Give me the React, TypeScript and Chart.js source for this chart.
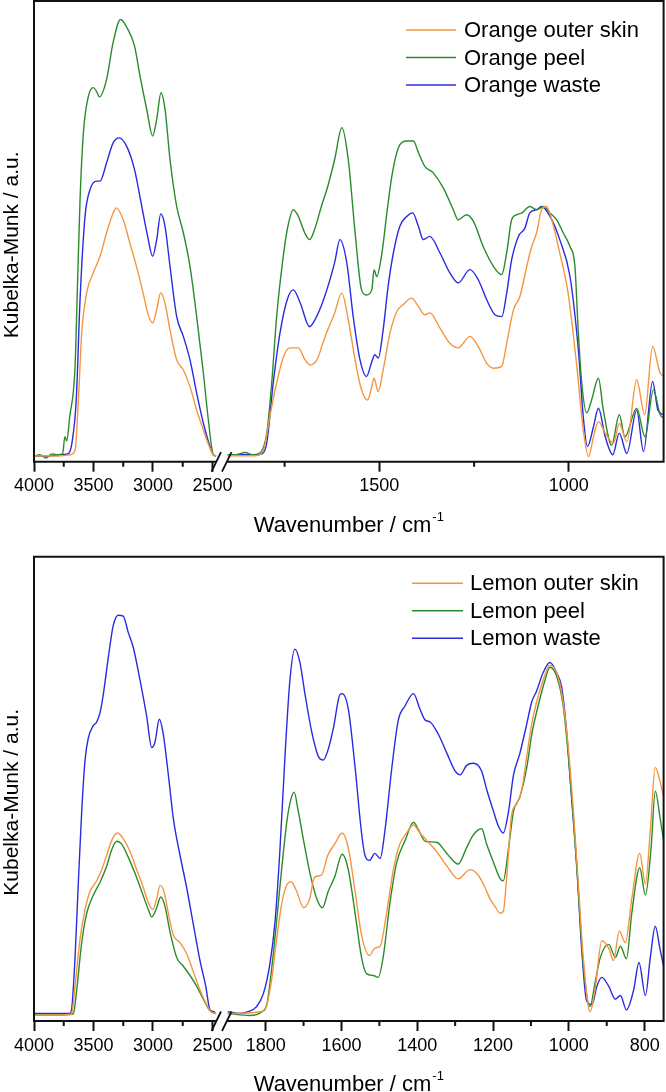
import React, { useEffect, useRef } from "react";
import { Chart, registerables } from "chart.js";

Chart.register(...registerables);

// ---------- Shared axis tick values ----------
const leftTicks = [4000, 3750, 3500, 3250, 3000, 2750, 2500];
const leftMajor = [4000, 3500, 3000, 2500];
const topRightTicks = [1750, 1500, 1250, 1000];
const topRightMajor = [1500, 1000];
const bottomRightTicks = [1800, 1700, 1600, 1500, 1400, 1300, 1200, 1100, 1000, 900, 800];
const bottomRightMajor = [1800, 1600, 1400, 1200, 1000, 800];

// ---------- Top panel: Orange ----------
const orangeSkinLeftWn = [4000, 3900, 3800, 3700, 3655, 3627, 3599, 3557, 3502, 3445, 3390, 3335, 3307, 3250, 3195, 3139, 3083, 3045, 3003, 2969, 2935, 2899, 2857, 2801, 2745, 2689, 2633, 2577, 2521, 2493, 2470];
const orangeSkinLeftKm = [1.2, 1.3, 1.2, 1.5, 2.5, 13.4, 28.0, 36.7, 41.0, 44.6, 49.7, 54.0, 55.1, 52.5, 47.5, 42.4, 36.6, 32.3, 30.1, 33.0, 36.7, 34.4, 28.6, 22.1, 19.9, 16.3, 11.2, 6.9, 2.9, 1.5, 1.3];
const orangeSkinRightWn = [1900, 1830, 1806, 1789, 1771, 1753, 1736, 1714, 1696, 1683, 1665, 1643, 1618, 1599, 1582, 1564, 1547, 1531, 1520, 1514, 1503, 1490, 1472, 1454, 1437, 1415, 1397, 1380, 1367, 1340, 1314, 1292, 1261, 1239, 1217, 1199, 1177, 1164, 1146, 1129, 1111, 1098, 1085, 1072, 1059, 1045, 1024, 1002, 979, 962, 948, 935, 922, 904, 882, 867, 847, 821, 800, 779, 759, 750];
const orangeSkinRightKm = [1.3, 1.3, 2.5, 9.8, 17.1, 22.8, 24.7, 24.7, 22.1, 21.0, 22.1, 27.2, 32.3, 36.6, 30.8, 22.1, 15.6, 13.4, 16.3, 18.1, 15.2, 19.9, 27.9, 32.6, 34.1, 35.5, 33.7, 31.9, 32.3, 29.0, 25.7, 24.7, 27.2, 25.0, 21.4, 20.3, 20.7, 25.7, 33.0, 35.9, 42.4, 46.7, 49.7, 54.7, 55.4, 52.5, 45.3, 36.6, 20.7, 6.9, 1.1, 5.4, 8.7, 6.2, 4.0, 8.3, 4.3, 17.8, 10.2, 25.0, 19.2, 18.6];

const orangePeelLeftWn = [4000, 3950, 3900, 3850, 3800, 3760, 3740, 3725, 3700, 3655, 3635, 3613, 3585, 3543, 3502, 3475, 3450, 3390, 3335, 3273, 3210, 3155, 3109, 3053, 3003, 2969, 2933, 2899, 2857, 2801, 2745, 2689, 2633, 2577, 2535, 2493, 2470];
const orangePeelLeftKm = [1.2, 1.5, 0.8, 1.7, 1.5, 1.7, 5.4, 4.5, 9.7, 20.6, 38.0, 56.9, 71.4, 79.3, 81.2, 80.4, 79.2, 83.0, 91.0, 96.0, 93.8, 90.2, 83.7, 76.5, 70.7, 74.3, 80.1, 76.5, 65.6, 55.4, 49.7, 42.4, 31.5, 19.3, 9.1, 1.5, 1.2];
const orangePeelRightWn = [1900, 1880, 1854, 1835, 1815, 1797, 1784, 1771, 1757, 1743, 1727, 1714, 1697, 1684, 1671, 1653, 1636, 1618, 1599, 1582, 1564, 1547, 1534, 1520, 1514, 1507, 1493, 1480, 1467, 1450, 1427, 1410, 1397, 1380, 1358, 1331, 1305, 1292, 1270, 1252, 1226, 1199, 1177, 1164, 1151, 1138, 1124, 1103, 1085, 1067, 1050, 1032, 1015, 997, 984, 975, 966, 953, 940, 922, 909, 887, 867, 852, 821, 799, 777, 759, 750];
const orangePeelRightKm = [1.5, 1.5, 2.0, 1.5, 1.9, 6.2, 17.1, 31.5, 42.3, 50.4, 54.7, 53.3, 49.7, 48.2, 50.4, 55.4, 59.8, 65.6, 72.5, 65.6, 49.7, 37.3, 36.2, 37.3, 41.7, 40.2, 45.4, 54.1, 62.0, 68.1, 69.6, 69.6, 67.1, 64.1, 62.7, 59.4, 54.7, 52.5, 53.6, 52.2, 46.7, 42.4, 40.6, 45.4, 52.5, 53.6, 54.0, 55.4, 54.7, 55.4, 54.0, 52.5, 49.7, 46.7, 42.4, 28.0, 17.1, 10.6, 13.4, 18.1, 11.2, 3.6, 10.2, 5.4, 11.6, 5.4, 15.6, 10.2, 9.5];

const orangeWasteLeftWn = [4000, 3900, 3800, 3720, 3700, 3681, 3645, 3613, 3571, 3529, 3473, 3445, 3390, 3335, 3284, 3222, 3155, 3100, 3045, 3003, 2969, 2935, 2899, 2857, 2801, 2745, 2689, 2633, 2577, 2521, 2493, 2470];
const orangeWasteLeftKm = [1.2, 1.2, 1.5, 1.7, 2.1, 4.1, 13.4, 35.2, 53.3, 59.1, 60.9, 60.9, 64.9, 69.2, 70.3, 68.5, 63.4, 56.2, 48.9, 44.6, 48.2, 53.8, 51.1, 42.4, 31.5, 27.2, 22.1, 14.9, 8.4, 3.3, 1.5, 1.3];
const orangeWasteRightWn = [1900, 1830, 1810, 1797, 1780, 1762, 1743, 1727, 1709, 1684, 1670, 1647, 1618, 1604, 1586, 1569, 1551, 1534, 1520, 1512, 1503, 1490, 1477, 1463, 1446, 1427, 1412, 1397, 1384, 1367, 1340, 1314, 1292, 1261, 1239, 1217, 1195, 1177, 1164, 1151, 1133, 1116, 1103, 1085, 1072, 1050, 1024, 997, 975, 962, 951, 935, 922, 904, 884, 867, 847, 821, 803, 779, 765, 750];
const orangeWasteRightKm = [1.5, 1.5, 1.7, 4.1, 17.1, 28.0, 35.2, 37.3, 34.5, 29.3, 30.8, 35.2, 43.2, 48.2, 43.2, 31.5, 22.1, 18.5, 21.7, 23.2, 22.5, 28.6, 38.0, 45.3, 51.1, 53.3, 54.0, 51.1, 48.2, 48.9, 45.3, 41.0, 38.8, 41.7, 39.5, 35.2, 31.9, 31.5, 36.6, 43.8, 48.9, 50.7, 54.0, 54.7, 55.4, 53.3, 48.2, 40.2, 24.3, 9.8, 3.3, 7.6, 11.6, 5.4, 1.5, 6.2, 1.8, 11.2, 2.2, 17.4, 11.2, 10.2];

// ---------- Bottom panel: Lemon ----------
const lemonSkinLeftWn = [4000, 3800, 3700, 3683, 3655, 3613, 3571, 3529, 3473, 3431, 3389, 3347, 3300, 3250, 3193, 3137, 3081, 3039, 3003, 2969, 2941, 2908, 2871, 2829, 2773, 2717, 2661, 2605, 2549, 2515, 2470];
const lemonSkinLeftKm = [1.3, 1.3, 1.4, 1.6, 7.5, 17.7, 24.0, 27.9, 30.2, 32.6, 35.7, 38.9, 40.5, 39.3, 36.5, 32.6, 28.7, 25.5, 24.0, 26.3, 29.2, 27.9, 23.2, 18.5, 16.9, 14.5, 10.6, 6.7, 3.5, 2.0, 1.6];
const lemonSkinRightWn = [1900, 1815, 1797, 1784, 1771, 1757, 1743, 1733, 1718, 1700, 1684, 1671, 1653, 1636, 1618, 1598, 1582, 1564, 1547, 1526, 1512, 1498, 1481, 1463, 1446, 1428, 1410, 1393, 1375, 1349, 1322, 1292, 1261, 1239, 1221, 1208, 1195, 1181, 1173, 1164, 1151, 1138, 1124, 1111, 1098, 1085, 1068, 1050, 1032, 1015, 1002, 988, 975, 962, 944, 931, 913, 895, 882, 867, 851, 834, 813, 798, 785, 772, 759, 750];
const lemonSkinRightKm = [1.6, 2.0, 3.5, 9.0, 17.7, 25.5, 29.5, 30.0, 27.9, 24.4, 26.3, 31.0, 31.4, 35.7, 38.1, 40.5, 37.3, 27.9, 18.5, 14.1, 15.7, 16.1, 23.2, 32.6, 38.1, 40.5, 42.2, 40.5, 38.9, 36.5, 33.4, 30.6, 32.6, 31.4, 28.7, 26.3, 24.7, 23.2, 23.6, 31.0, 44.4, 46.7, 49.9, 57.0, 64.0, 68.7, 73.4, 76.6, 75.0, 68.7, 59.3, 45.2, 29.5, 13.7, 2.0, 6.7, 17.3, 15.7, 13.0, 19.4, 16.9, 26.3, 36.1, 29.5, 41.2, 54.6, 51.5, 48.3];

const lemonPeelLeftWn = [4000, 3800, 3700, 3669, 3641, 3599, 3557, 3502, 3445, 3389, 3347, 3305, 3263, 3208, 3151, 3095, 3039, 3011, 2969, 2935, 2899, 2857, 2801, 2745, 2689, 2633, 2577, 2527, 2470];
const lemonPeelLeftKm = [1.3, 1.3, 1.4, 1.6, 6.7, 16.9, 23.2, 27.1, 29.9, 33.4, 36.9, 38.7, 38.1, 35.3, 31.8, 27.9, 24.0, 22.4, 24.4, 26.7, 24.7, 19.2, 13.7, 11.8, 9.8, 7.5, 4.7, 2.4, 1.6];
const lemonPeelRightWn = [1900, 1841, 1810, 1797, 1784, 1771, 1757, 1743, 1733, 1725, 1714, 1700, 1683, 1665, 1650, 1635, 1618, 1598, 1582, 1564, 1547, 1534, 1516, 1503, 1490, 1472, 1454, 1432, 1410, 1397, 1379, 1349, 1322, 1292, 1270, 1252, 1230, 1217, 1199, 1181, 1173, 1159, 1146, 1129, 1111, 1098, 1081, 1063, 1050, 1032, 1015, 1002, 988, 975, 962, 944, 931, 917, 895, 877, 864, 848, 834, 813, 798, 783, 772, 759, 750];
const lemonPeelRightKm = [1.6, 1.2, 2.0, 3.5, 11.4, 21.6, 33.4, 43.6, 47.9, 49.3, 45.2, 38.9, 31.8, 26.3, 24.4, 27.9, 31.0, 35.9, 32.6, 23.2, 13.7, 10.2, 9.8, 9.4, 13.7, 25.5, 34.2, 38.9, 42.8, 41.2, 38.7, 38.5, 36.1, 33.8, 37.3, 40.1, 41.4, 38.1, 34.2, 30.6, 30.2, 37.3, 45.2, 48.3, 54.6, 61.7, 67.9, 73.4, 76.2, 74.2, 67.9, 57.7, 43.6, 27.9, 12.2, 3.1, 8.2, 13.7, 16.5, 13.7, 16.1, 13.4, 23.2, 33.0, 27.1, 37.3, 49.5, 43.6, 38.9];

const lemonWasteLeftWn = [4000, 3800, 3700, 3683, 3655, 3628, 3599, 3571, 3544, 3502, 3473, 3445, 3418, 3376, 3334, 3292, 3250, 3208, 3166, 3109, 3053, 3011, 2983, 2947, 2913, 2871, 2829, 2773, 2717, 2661, 2605, 2557, 2521, 2479];
const lemonWasteLeftKm = [1.6, 1.6, 1.6, 2.7, 13.7, 29.5, 45.2, 56.2, 60.9, 63.6, 64.4, 66.4, 70.3, 78.2, 85.2, 87.4, 87.2, 83.7, 80.5, 73.4, 65.6, 58.9, 60.1, 65.0, 61.7, 53.0, 43.6, 35.7, 28.7, 20.8, 13.0, 7.5, 2.4, 2.0];
const lemonWasteRightWn = [1900, 1868, 1846, 1824, 1806, 1789, 1775, 1762, 1749, 1736, 1723, 1710, 1696, 1679, 1661, 1648, 1635, 1621, 1604, 1598, 1582, 1564, 1547, 1538, 1526, 1512, 1498, 1485, 1467, 1450, 1432, 1410, 1393, 1379, 1366, 1344, 1322, 1300, 1287, 1270, 1252, 1230, 1217, 1199, 1186, 1173, 1159, 1146, 1129, 1111, 1098, 1085, 1068, 1050, 1032, 1019, 1006, 993, 979, 966, 953, 939, 926, 913, 895, 877, 864, 848, 829, 815, 798, 785, 772, 759, 750];
const lemonWasteRightKm = [2.0, 1.6, 2.0, 3.1, 5.9, 12.2, 21.6, 37.3, 57.0, 73.4, 80.1, 77.4, 70.3, 62.5, 57.0, 56.2, 58.5, 63.2, 70.3, 70.5, 67.2, 54.6, 40.5, 35.7, 34.6, 36.1, 35.0, 41.2, 54.6, 64.8, 67.9, 70.5, 67.2, 64.8, 64.4, 61.7, 57.7, 53.8, 53.0, 55.0, 55.5, 53.8, 49.9, 45.2, 42.0, 40.5, 45.2, 53.0, 57.7, 64.0, 68.7, 71.1, 75.0, 77.2, 75.0, 71.9, 62.5, 48.3, 33.4, 15.3, 4.3, 3.5, 7.5, 9.4, 7.5, 4.7, 5.5, 2.4, 6.7, 12.6, 5.5, 13.7, 20.4, 15.3, 11.8];

// ---------- Styles ----------
const FONT = "'Liberation Sans', Arial, Helvetica, sans-serif";
const C_ORANGE = "#F4963F";
const C_GREEN = "#2B8B2B";
const C_BLUE = "#2A2AE0";

const LEFT_MIN = 2410;
const LEFT_MAX = 4000;
const RIGHT_MIN = 750;
const RIGHT_MAX = 1912;
const PX_LEFT = 0.119; // px per cm-1
const PX_RIGHT = 0.379;

type Series = {
  label: string;
  color: string;
  lw: number[];
  lk: number[];
  rw: number[];
  rk: number[];
};

const pts = (wn: number[], km: number[]) => wn.map((w, i) => ({ x: w, y: km[i] }));

const topSeries: Series[] = [
  { label: "Orange outer skin", color: C_ORANGE, lw: orangeSkinLeftWn, lk: orangeSkinLeftKm, rw: orangeSkinRightWn, rk: orangeSkinRightKm },
  { label: "Orange peel", color: C_GREEN, lw: orangePeelLeftWn, lk: orangePeelLeftKm, rw: orangePeelRightWn, rk: orangePeelRightKm },
  { label: "Orange waste", color: C_BLUE, lw: orangeWasteLeftWn, lk: orangeWasteLeftKm, rw: orangeWasteRightWn, rk: orangeWasteRightKm },
];

const bottomSeries: Series[] = [
  { label: "Lemon outer skin", color: C_ORANGE, lw: lemonSkinLeftWn, lk: lemonSkinLeftKm, rw: lemonSkinRightWn, rk: lemonSkinRightKm },
  { label: "Lemon peel", color: C_GREEN, lw: lemonPeelLeftWn, lk: lemonPeelLeftKm, rw: lemonPeelRightWn, rk: lemonPeelRightKm },
  { label: "Lemon waste", color: C_BLUE, lw: lemonWasteLeftWn, lk: lemonWasteLeftKm, rw: lemonWasteRightWn, rk: lemonWasteRightKm },
];

type PanelCfg = {
  series: Series[];
  rightTicks: number[];
  rightMajor: number[];
  padTop: number;
  axisH: number;
  legend: { x1: number; x2: number; tx: number; rows: number[] };
};

const topCfg: PanelCfg = {
  series: topSeries,
  rightTicks: topRightTicks,
  rightMajor: topRightMajor,
  padTop: 1,
  axisH: 84.3,
  legend: { x1: 406, x2: 456, tx: 464, rows: [30, 57.5, 85] },
};

const bottomCfg: PanelCfg = {
  series: bottomSeries,
  rightTicks: bottomRightTicks,
  rightMajor: bottomRightMajor,
  padTop: 10.7,
  axisH: 71,
  legend: { x1: 412, x2: 463, tx: 470, rows: [37.3, 64.7, 92.3] },
};

function makeFramePlugin(cfg: PanelCfg) {
  return {
    id: "frameAndDecor",
    afterDraw(chart: any) {
      const { ctx, chartArea } = chart;
      const { left, right, top, bottom } = chartArea;
      const xl = chart.scales.xl;
      const xr = chart.scales.xr;
      const split = xl.right;
      ctx.save();
      ctx.strokeStyle = "#111";
      ctx.lineWidth = 2;
      ctx.lineJoin = "miter";
      ctx.lineCap = "butt";
      // break slashes
      const s1 = split - 11.7;
      const s2 = split - 1.2;
      const cross1 = s1 + 4.9;
      const cross2 = s2 + 4.9;
      ctx.beginPath();
      ctx.moveTo(cross1, bottom);
      ctx.lineTo(left, bottom);
      ctx.lineTo(left, top);
      ctx.lineTo(right, top);
      ctx.lineTo(right, bottom);
      ctx.lineTo(cross2, bottom);
      ctx.stroke();
      ctx.lineWidth = 1.8;
      ctx.beginPath();
      ctx.moveTo(s1, bottom + 10);
      ctx.lineTo(s1 + 9.5, bottom - 9.5);
      ctx.moveTo(s2, bottom + 10);
      ctx.lineTo(s2 + 9.5, bottom - 9.5);
      ctx.stroke();
      // minor ticks
      ctx.lineWidth = 2;
      ctx.beginPath();
      for (const v of leftTicks) {
        if (leftMajor.includes(v)) continue;
        const p = xl.getPixelForValue(v);
        ctx.moveTo(p, bottom);
        ctx.lineTo(p, bottom + 5);
      }
      for (const v of cfg.rightTicks) {
        if (cfg.rightMajor.includes(v)) continue;
        const p = xr.getPixelForValue(v);
        ctx.moveTo(p, bottom);
        ctx.lineTo(p, bottom + 5);
      }
      ctx.stroke();

      // x title with superscript
      ctx.fillStyle = "#000";
      ctx.textBaseline = "alphabetic";
      ctx.textAlign = "left";
      const mainTxt = "Wavenumber / cm";
      const supTxt = "-1";
      ctx.font = `22px ${FONT}`;
      const wMain = ctx.measureText(mainTxt).width;
      ctx.font = `13px ${FONT}`;
      const wSup = ctx.measureText(supTxt).width;
      const total = wMain + 1 + wSup;
      const x0 = (left + right) / 2 - total / 2;
      const base = bottom + 70;
      ctx.font = `22px ${FONT}`;
      ctx.fillText(mainTxt, x0, base);
      ctx.font = `13px ${FONT}`;
      ctx.fillText(supTxt, x0 + wMain + 1, base - 11);

      // y title
      ctx.save();
      ctx.translate(17.5, (top + bottom) / 2 + 13.5);
      ctx.rotate(-Math.PI / 2);
      ctx.font = `21px ${FONT}`;
      ctx.textAlign = "center";
      ctx.textBaseline = "alphabetic";
      ctx.fillText("Kubelka-Munk / a.u.", 0, 0);
      ctx.restore();

      // legend
      const lg = cfg.legend;
      ctx.font = `22px ${FONT}`;
      ctx.textBaseline = "middle";
      ctx.textAlign = "left";
      cfg.series.forEach((s, i) => {
        const y = lg.rows[i];
        ctx.strokeStyle = s.color;
        ctx.lineWidth = 1.5;
        ctx.beginPath();
        ctx.moveTo(lg.x1, y);
        ctx.lineTo(lg.x2, y);
        ctx.stroke();
        ctx.fillStyle = "#000";
        ctx.fillText(s.label, lg.tx, y + 1);
      });
      ctx.restore();
    },
  };
}

function xScale(min: number, max: number, weight: number, ticks: number[], major: number[], axisH: number) {
  return {
    type: "linear",
    position: "bottom",
    stack: "xs",
    stackWeight: weight,
    min,
    max,
    reverse: true,
    afterBuildTicks: (s: any) => {
      s.ticks = ticks.map((v) => ({ value: v }));
    },
    afterFit: (s: any) => {
      s.height = axisH;
      s.paddingLeft = 0;
      s.paddingRight = 0;
      s.paddingTop = 0;
      s.paddingBottom = 0;
    },
    border: { display: false },
    grid: {
      drawOnChartArea: false,
      drawTicks: true,
      tickLength: 10,
      tickWidth: 2,
      tickColor: (c: any) => (c.tick && major.includes(c.tick.value) ? "#111" : "rgba(0,0,0,0)"),
    },
    ticks: {
      autoSkip: false,
      maxRotation: 0,
      minRotation: 0,
      padding: 4,
      color: "#000",
      font: { family: FONT, size: 18 },
      callback: (v: any) => (major.includes(Number(v)) ? String(v) : ""),
    },
  };
}

function buildConfig(cfg: PanelCfg): any {
  const datasets: any[] = [];
  cfg.series.forEach((s) => {
    datasets.push({
      label: s.label,
      data: pts(s.lw, s.lk),
      xAxisID: "xl",
      yAxisID: "y",
      borderColor: s.color,
      backgroundColor: s.color,
    });
    datasets.push({
      label: s.label,
      data: pts(s.rw, s.rk),
      xAxisID: "xr",
      yAxisID: "y",
      borderColor: s.color,
      backgroundColor: s.color,
    });
  });
  const wl = (LEFT_MAX - LEFT_MIN) * PX_LEFT;
  const wr = (RIGHT_MAX - RIGHT_MIN) * PX_RIGHT;
  return {
    type: "line",
    data: { datasets },
    options: {
      responsive: false,
      animation: false,
      devicePixelRatio: 1,
      parsing: true,
      layout: { padding: { top: cfg.padTop, left: 34, right: 2.4, bottom: 0 } },
      elements: {
        point: { radius: 0, hoverRadius: 0 },
        line: { borderWidth: 1.4, cubicInterpolationMode: "monotone", fill: false },
      },
      plugins: { legend: { display: false }, tooltip: { enabled: false }, title: { display: false } },
      events: [],
      scales: {
        xl: xScale(LEFT_MIN, LEFT_MAX, wl, leftTicks, leftMajor, cfg.axisH),
        xr: xScale(RIGHT_MIN, RIGHT_MAX, wr, cfg.rightTicks, cfg.rightMajor, cfg.axisH),
        y: { type: "linear", display: false, min: 0, max: 100 },
      },
    },
    plugins: [makeFramePlugin(cfg)],
  };
}

function Panel({ cfg, top }: { cfg: PanelCfg; top: number }) {
  const ref = useRef<HTMLCanvasElement | null>(null);
  useEffect(() => {
    if (!ref.current) return;
    const chart = new Chart(ref.current, buildConfig(cfg));
    return () => chart.destroy();
  }, [cfg]);
  return (
    <canvas
      ref={ref}
      width={666}
      height={546}
      style={{ position: "absolute", left: 0, top, width: 666, height: 546, display: "block" }}
    />
  );
}

export default function App() {
  return (
    <div
      style={{
        position: "absolute",
        left: 0,
        top: 0,
        width: 666,
        height: 1092,
        overflow: "hidden",
        background: "#ffffff",
      }}
    >
      <Panel cfg={topCfg} top={0} />
      <Panel cfg={bottomCfg} top={546} />
    </div>
  );
}
